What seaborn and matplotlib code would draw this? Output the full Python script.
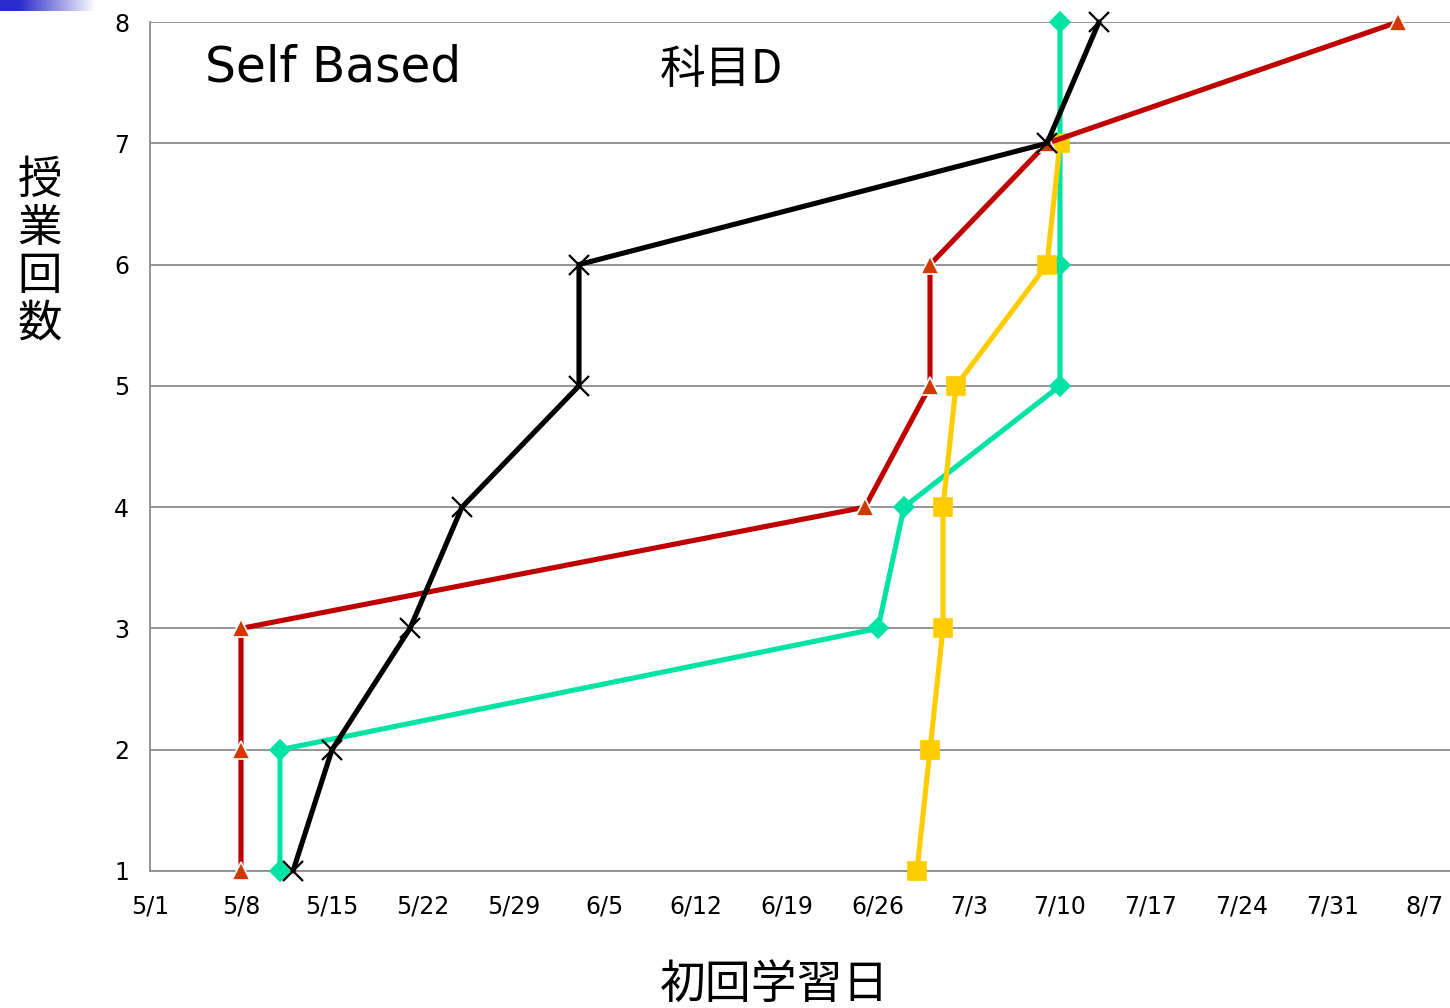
import matplotlib
matplotlib.use("Agg")
import matplotlib.pyplot as plt
import numpy as np
import pandas as pd
import seaborn as sns
from matplotlib.ticker import FuncFormatter
import matplotlib.dates as mdates

YEAR = 2010

# first-study date per lesson number, one list per student
lessons = [1, 2, 3, 4, 5, 6, 7, 8]
red_dates = ["5/8", "5/8", "5/8", "6/25", "6/30", "6/30", "7/9", "8/5"]
green_dates = ["5/11", "5/11", "6/26", "6/28", "7/10", "7/10", "7/10", "7/10"]
yellow_dates = ["6/29", "6/30", "7/1", "7/1", "7/2", "7/9", "7/10"]
black_dates = ["5/12", "5/15", "5/21", "5/25", "6/3", "6/3", "7/9", "7/13"]

x_ticks = ["5/1", "5/8", "5/15", "5/22", "5/29", "6/5", "6/12", "6/19",
           "6/26", "7/3", "7/10", "7/17", "7/24", "7/31", "8/7"]


def to_dt(labels):
    return pd.to_datetime([f"{YEAR}/{s}" for s in labels], format="%Y/%m/%d")


sns.set_style("white")
plt.rcParams["font.family"] = ["DejaVu Sans", "Noto Sans CJK JP"]
plt.rcParams["text.color"] = "black"

fig = plt.figure(figsize=(14.5, 10.08), dpi=100)
ax = fig.add_axes([150 / 1450, 137 / 1008, 1300 / 1450, 849 / 1008])

series = [
    # dates, line colour, marker, marker face, marker edge, size
    (green_dates, "#00E3A4", "D", "#00E3A4", "#00E3A4", 10),
    (yellow_dates, "#FFCC00", "s", "#FFCC00", "#FFCC00", 13),
    (red_dates, "#C00000", "^", "#D03A00", "white", 13),
    (black_dates, "black", "x", "black", "black", 14),
]

for dates, col, mk, mfc, mec, ms in series:
    df = pd.DataFrame({"date": to_dt(dates), "lesson": lessons[:len(dates)]})
    sns.lineplot(data=df, x="date", y="lesson", sort=False, estimator=None,
                 errorbar=None, color=col, lw=3.7,
                 marker=mk, markersize=ms, markerfacecolor=mfc,
                 markeredgecolor=mec, markeredgewidth=1.2 if mk != "x" else 1.6,
                 clip_on=False, ax=ax, zorder=3)

ax.set_ylim(1, 8)
ax.set_xlim(pd.Timestamp(f"{YEAR}-05-01"), pd.Timestamp(f"{YEAR}-08-09"))
ax.set_yticks(lessons)
ax.set_xticks(to_dt(x_ticks))
ax.xaxis.set_major_formatter(
    FuncFormatter(lambda v, p: f"{mdates.num2date(v).month}/{mdates.num2date(v).day}"))

ax.grid(axis="y", color="#8C8C8C", lw=1.3)
ax.grid(axis="x", visible=False)
for s in ["top", "right"]:
    ax.spines[s].set_visible(False)
for s in ["left", "bottom"]:
    ax.spines[s].set_color("#8C8C8C")
    ax.spines[s].set_linewidth(1.3)
ax.tick_params(axis="both", which="major", direction="out", length=7, width=1.3,
               color="#8C8C8C", labelsize=17, labelcolor="black")
ax.tick_params(axis="x", pad=10)
ax.tick_params(axis="y", pad=8)

ax.set_xlabel("")
ax.set_ylabel("")
fig.text(775 / 1450, 1 - 985 / 1008, "初回学習日", ha="center", va="center",
         fontsize=33, family=["Noto Sans CJK JP"])
fig.text(40 / 1450, 1 - 252 / 1008, "\n".join("授業回数"), ha="center", va="center",
         fontsize=32, linespacing=1.05, family=["Noto Sans CJK JP"])

ax.text(205 / 1450, 1 - 68 / 1008, "Self Based", transform=fig.transFigure,
        ha="left", va="center", fontsize=35)
ax.text(660 / 1450, 1 - 70 / 1008, "科目D", transform=fig.transFigure,
        ha="left", va="center", fontsize=33, family=["Noto Sans CJK JP"])

# slide ornament: blue gradient bar at the top-left corner
bar = fig.add_axes([0, 1 - 11 / 1008, 95 / 1450, 11 / 1008])
t = np.clip((np.linspace(0, 1, 200) - 0.2) / 0.8, 0, 1)
rgb = np.array([0.17, 0.17, 0.80])[None, :] * (1 - t[:, None]) + t[:, None]
bar.imshow(rgb[None, :, :], aspect="auto")
bar.axis("off")

fig.savefig("out.png", dpi=100)
